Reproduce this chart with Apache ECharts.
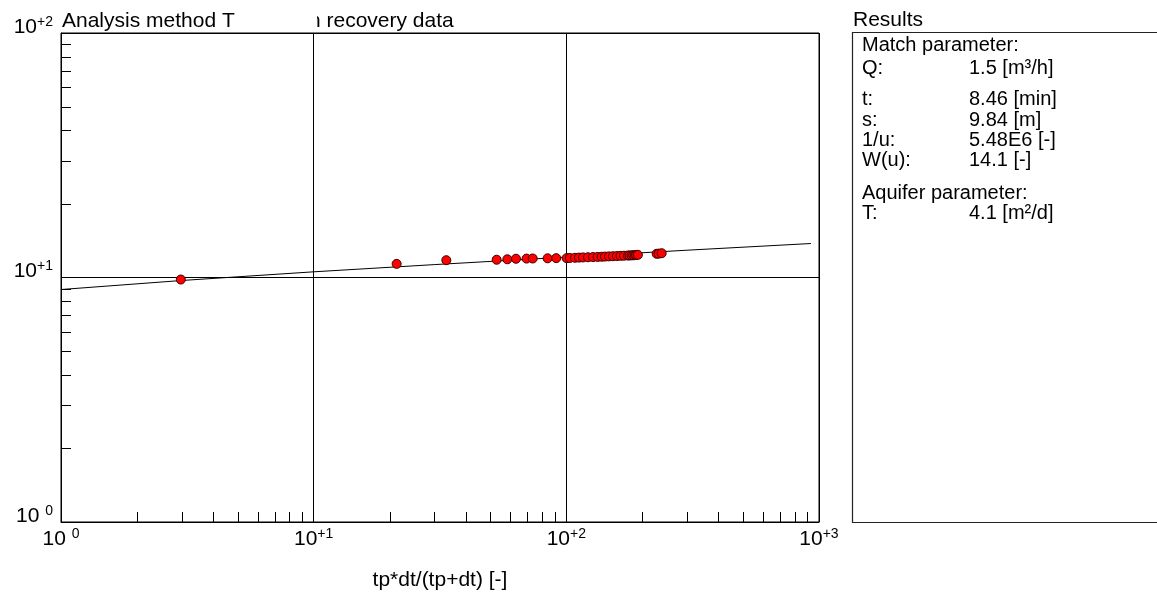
<!DOCTYPE html>
<html>
<head>
<meta charset="utf-8">
<script src="https://cdn.jsdelivr.net/npm/echarts@6/dist/echarts.min.js"></script>
<style>
html,body{margin:0;padding:0;background:#fff;}
#c{width:1157px;height:592px;}
</style>
</head>
<body>
<div id="c"></div>
<script>
// ---- data ----
const obsX = [2.98, 21.3, 33.5, 53.0, 58.4, 63.2, 69.6, 73.6, 84.3, 91.2,
  100.3, 103.3, 108.2, 112.2, 116.4, 121.8, 127.5, 133.0, 137.9, 142.2, 147.5,
  152.9, 158.6, 164.0, 169.1, 175.3, 178.0, 181.3, 184.0, 186.8, 189.0, 192.0,
  227.8, 232.0, 238.4];
const obsY = [9.81, 11.37, 11.77, 11.82, 11.87, 11.93, 11.95, 11.96, 11.98, 12.0,
  12.0, 12.02, 12.04, 12.06, 12.08, 12.10, 12.12, 12.14, 12.16, 12.18, 12.20,
  12.22, 12.24, 12.26, 12.28, 12.30, 12.31, 12.32, 12.33, 12.34, 12.36, 12.38,
  12.50, 12.52, 12.57];
const fitX = [1, 3, 10, 30, 100, 300, 929];
const fitY = [8.93, 9.72, 10.55, 11.29, 12.12, 12.93, 13.77];
const xMinorTicks = [2,3,4,5,6,7,8,9,20,30,40,50,60,70,80,90,200,300,400,500,600,700,800,900];
const yMinorTicks = [2,3,4,5,6,7,8,9,20,30,40,50,60,70,80,90];
const xRange = [1, 1000];
const yRange = [1, 100];
const titleLeft = 'Analysis method T';
const titleRight = 'n recovery data';
const xName = 'tp*dt/(tp+dt) [-]';
const resultsTitle = 'Results';
const resultRows = [
  ['Match parameter:', ''],
  ['Q:', '1.5 [m³/h]'],
  ['t:', '8.46 [min]'],
  ['s:', '9.84 [m]'],
  ['1/u:', '5.48E6 [-]'],
  ['W(u):', '14.1 [-]'],
  ['Aquifer parameter:', ''],
  ['T:', '4.1 [m²/d]']
];
const resultRowY = [45, 68, 99, 120, 140, 160, 193, 213];

// ---- chart ----
const FONT = '"Liberation Sans", Arial, sans-serif';
const chart = echarts.init(document.getElementById('c'), null, {renderer: 'canvas'});

function expLabel(v) {
  const e = Math.round(Math.log10(v));
  return e === 0 ? '10 {s|0}' : '10{s|+' + e + '}';
}
const rich = {
  s: {fontSize: 14, fontFamily: FONT, color: '#000', verticalAlign: 'top', lineHeight: 14}
};

const scatterData = obsX.map((x, i) => [x, obsY[i]]);
const fitData = fitX.map((x, i) => [x, fitY[i]]);

const graphics = [
  {type: 'text', left: 62, top: 11, style: {text: titleLeft, font: '21px ' + FONT, fill: '#000'}},
  {type: 'text', left: 309, top: 11, style: {text: titleRight, font: '21px ' + FONT, fill: '#000'}},
  {type: 'rect', shape: {x: 300, y: 6, width: 17, height: 26}, style: {fill: '#fff'}, z: 10},
  {type: 'text', left: 853, top: 10, style: {text: resultsTitle, font: '21px ' + FONT, fill: '#000'}},
  {type: 'rect', shape: {x: 852.5, y: 32.5, width: 400, height: 490}, style: {fill: 'none', stroke: '#222', lineWidth: 1.2}}
];
resultRows.forEach((r, i) => {
  graphics.push({type: 'text', x: 862, y: resultRowY[i], style: {text: r[0], font: '20px ' + FONT, fill: '#000', verticalAlign: 'middle'}});
  if (r[1]) graphics.push({type: 'text', x: 969, y: resultRowY[i], style: {text: r[1], font: '20px ' + FONT, fill: '#000', verticalAlign: 'middle'}});
});

chart.setOption({
  animation: false,
  backgroundColor: '#fff',
  grid: {left: 61, right: 338, top: 33, bottom: 70, show: true, borderColor: '#000', borderWidth: 1, containLabel: false, outerBoundsMode: 'none'},
  xAxis: {
    type: 'log', logBase: 10, min: xRange[0], max: xRange[1],
    name: xName, nameLocation: 'middle', nameGap: 48,
    nameTextStyle: {fontSize: 21, fontFamily: FONT, color: '#000'},
    axisLine: {show: true, lineStyle: {color: '#000', width: 1}},
    axisTick: {show: false},
    splitLine: {show: true, lineStyle: {color: '#000', width: 1}},
    axisLabel: {formatter: expLabel, rich: rich, fontSize: 21, fontFamily: FONT, color: '#000', margin: 5, showMinLabel: true, showMaxLabel: true, lineHeight: 24}
  },
  yAxis: {
    type: 'log', logBase: 10, min: yRange[0], max: yRange[1],
    axisLine: {show: true, lineStyle: {color: '#000', width: 1}},
    axisTick: {show: false},
    splitLine: {show: true, lineStyle: {color: '#000', width: 1}},
    axisLabel: {formatter: expLabel, rich: rich, fontSize: 21, fontFamily: FONT, color: '#000', margin: 8, padding: [0, 0, 12, 0], showMinLabel: true, showMaxLabel: true, lineHeight: 24}
  },
  graphic: graphics,
  series: [
    {
      type: 'custom', silent: true, clip: false, z: 3,
      data: xMinorTicks.map(v => [v, yRange[0]]),
      renderItem: function (params, api) {
        const p = api.coord([api.value(0), api.value(1)]);
        const x = Math.round(p[0]) + 0.5;
        return {type: 'line', shape: {x1: x, y1: p[1], x2: x, y2: p[1] - 10}, style: {stroke: '#000', lineWidth: 1}};
      }
    },
    {
      type: 'custom', silent: true, clip: false, z: 3,
      data: yMinorTicks.map(v => [xRange[0], v]),
      renderItem: function (params, api) {
        const p = api.coord([api.value(0), api.value(1)]);
        const y = Math.round(p[1]) + 0.5;
        return {type: 'line', shape: {x1: p[0], y1: y, x2: p[0] + 10, y2: y}, style: {stroke: '#000', lineWidth: 1}};
      }
    },
    {
      type: 'line', data: fitData, showSymbol: false, symbol: 'none', silent: true, z: 4,
      lineStyle: {color: '#000', width: 1}
    },
    {
      type: 'scatter', data: scatterData, symbol: 'circle', symbolSize: 9, z: 5, silent: true,
      itemStyle: {color: '#ff0000', borderColor: '#3a0000', borderWidth: 1, opacity: 1}
    }
  ]
});
</script>
</body>
</html>
